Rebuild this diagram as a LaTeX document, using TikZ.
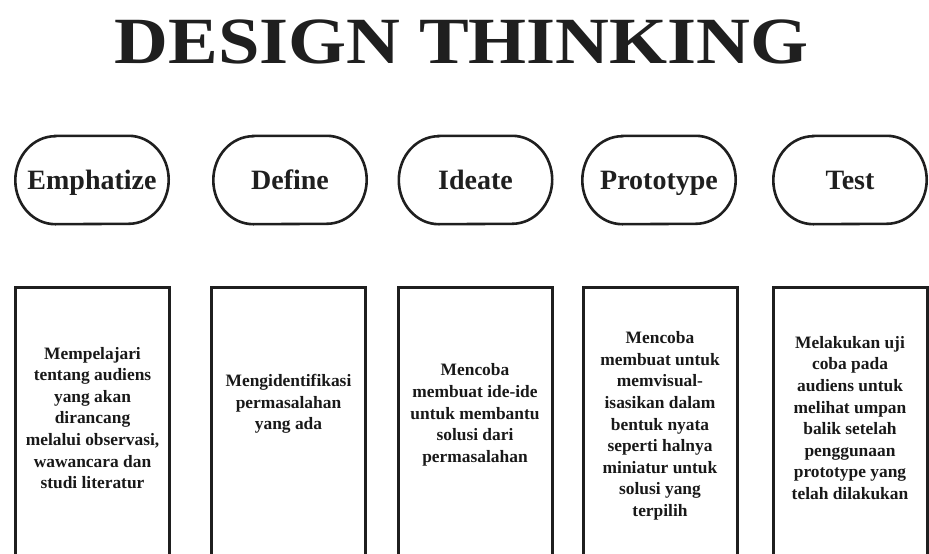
\documentclass[tikz,border=0pt]{standalone}
\usepackage{fontspec}
\usepackage{graphicx}
\setmainfont{Liberation Serif}
\usetikzlibrary{calc}
\begin{document}
\begin{tikzpicture}[x=1pt,y=-1pt,
  capsule/.style={minimum width=153pt,minimum height=88pt,inner sep=0pt,
    font=\fontsize{28}{32}\selectfont\bfseries,text=black!88,
    text height=24.5pt,text depth=6pt},
  capline/.style={line width=2.6pt,draw=black!88},
  colbox/.style={draw=black!88,line width=3pt,minimum width=154pt,
    minimum height=300pt,inner sep=0pt},
  desc/.style={align=center,font=\fontsize{17.4}{21.6}\selectfont\bfseries,
    text=black!90,inner sep=0pt},
  titlest/.style={font=\fontsize{66}{66}\selectfont\bfseries,text=black!88,inner sep=0pt}
]
\useasboundingbox (0,0) rectangle (929,554);
\clip (0,0) rectangle (929,554);

\node[titlest] (title) at (461.5,42) {\scalebox{1.13}[1]{DESIGN THINKING}};

% capsules
\node[capsule] (c1) at (92,180) {Emphatize};
\node[capsule] (c2) at (290,180) {Define};
\node[capsule] (c3) at (475.5,180) {Ideate};
\node[capsule] (c4) at (659,180) {Prototype};
\node[capsule] (c5) at (850,180) {Test};
\foreach \n in {c1,c2,c3,c4,c5}{
  \draw[capline] ($(\n.north west)+(40pt,0)$) -- ($(\n.north east)+(-40pt,0)$)
    arc[start angle=90,end angle=-90,x radius=40pt,y radius=44pt]
    -- ($(\n.south west)+(40pt,0)$)
    arc[start angle=270,end angle=90,x radius=40pt,y radius=44pt] -- cycle;
}

% boxes
\node[colbox] (b1) at (92.5,437) {};
\node[colbox] (b2) at (288.5,437) {};
\node[colbox] (b3) at (475,437) {};
\node[colbox] (b4) at (660,437) {};
\node[colbox] (b5) at (850,437) {};

% descriptions
\node[desc] (d1) at (92.5,418) {Mempelajari\\tentang audiens\\yang akan\\dirancang\\melalui observasi,\\wawancara dan\\studi literatur};
\node[desc] (d2) at (288.5,404) {Mengidentifikasi\\permasalahan\\yang ada};
\node[desc] (d3) at (475,415) {Mencoba\\membuat ide-ide\\untuk membantu\\solusi dari\\permasalahan};
\node[desc] (d4) at (660,426) {Mencoba\\membuat untuk\\memvisual-\\isasikan dalam\\bentuk nyata\\seperti halnya\\miniatur untuk\\solusi yang\\terpilih};
\node[desc] (d5) at (850,418) {Melakukan uji\\coba pada\\audiens untuk\\melihat umpan\\balik setelah\\penggunaan\\prototype yang\\telah dilakukan};
\end{tikzpicture}
\end{document}
